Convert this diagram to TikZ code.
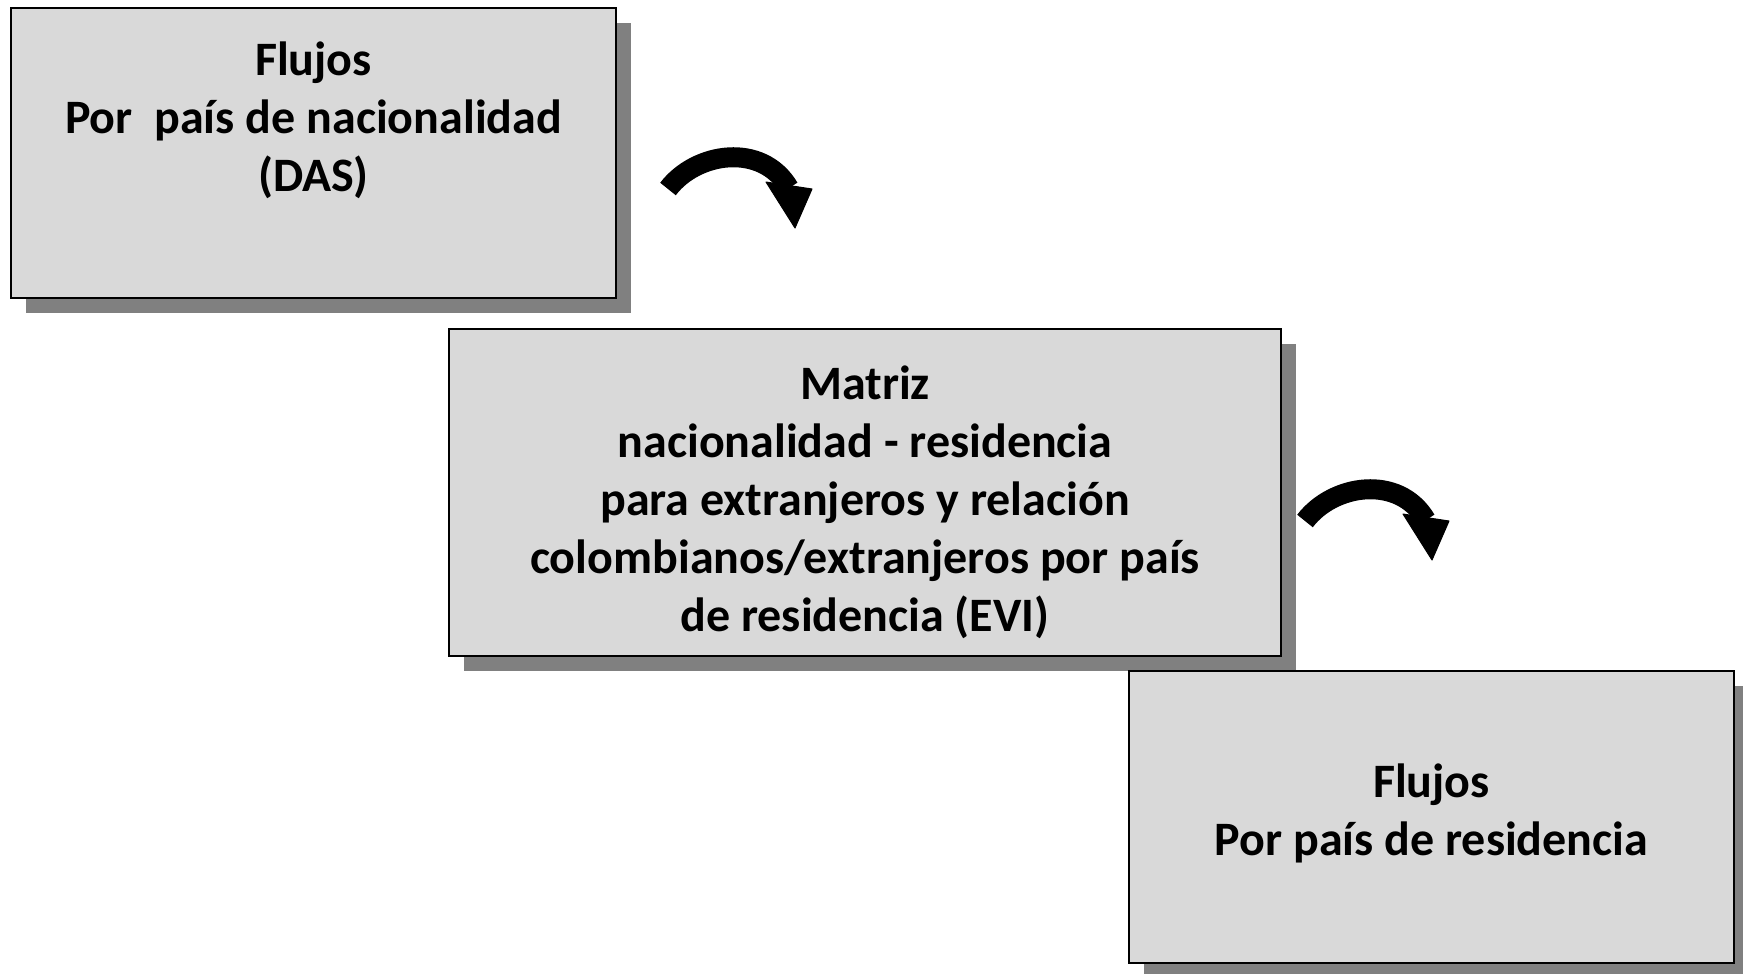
\documentclass[tikz,border=0pt]{standalone}
\usepackage{fontspec}
\setmainfont{Carlito}
\usetikzlibrary{shadows}
\definecolor{boxfill}{RGB}{217,217,217}
\definecolor{shadowgray}{RGB}{128,128,128}
\tikzset{
  stepbox/.style={draw=black, line width=1.5pt, fill=boxfill, inner sep=0pt,
    drop shadow={shadow xshift=15pt, shadow yshift=-15pt, fill=shadowgray, opacity=1}},
  boxtext/.style={align=center, inner sep=0pt, font=\bfseries\fontsize{48}{58}\selectfont},
  shaft/.style={draw=black, line width=20pt, line cap=butt},
  head/.style={fill=black, draw=black, line width=1pt, line join=round}
}
\begin{document}
\begin{tikzpicture}[x=1pt,y=-1pt]
\useasboundingbox (0,0) rectangle (1743,974);
\node[stepbox, minimum width=605pt, minimum height=290pt] (b1) at (313.5,153) {};
\node[stepbox, minimum width=832pt, minimum height=327pt] (b2) at (865,492.5) {};
\node[stepbox, minimum width=605pt, minimum height=292pt] (b3) at (1431.5,817) {};
\node[boxtext] (t1) at (313.5,120) {Flujos\\Por\ \ país de nacionalidad\\(DAS)};
\node[boxtext] (t2) at (865,502) {Matriz\\nacionalidad - residencia\\para extranjeros y relación\\colombianos/extranjeros por país\\de residencia (EVI)};
\node[boxtext] (t3) at (1431.5,813) {Flujos\\Por país de residencia};
% curved arrows
\foreach \dx/\dy/\n in {0/0/a, 637/332/b}{
  \begin{scope}[shift={(\dx,\dy)}]
    \coordinate (\n tail) at (668,189);
    \coordinate (\n end) at (789,188);
    \coordinate (\n hl) at (766,182);
    \coordinate (\n hr) at (812,189);
    \coordinate (\n tip) at (795,228);
    \draw[shaft] (\n tail) .. controls (696,152) and (762,142) .. (\n end);
    \filldraw[head] (\n hl) -- (\n hr) -- (\n tip) -- cycle;
  \end{scope}
}
\end{tikzpicture}
\end{document}
